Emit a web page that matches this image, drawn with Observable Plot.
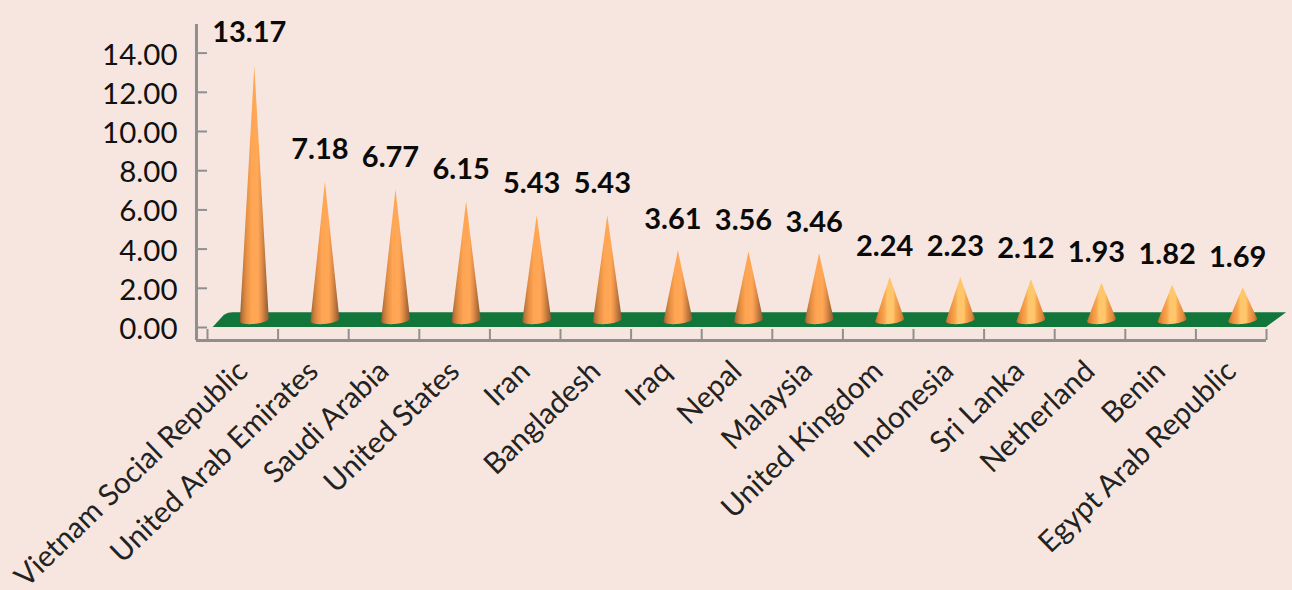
<!DOCTYPE html>
<html>
<head>
<meta charset="utf-8">
<script src="https://cdn.jsdelivr.net/npm/d3@7"></script>
<script src="https://cdn.jsdelivr.net/npm/@observablehq/plot@0.6"></script>
<style>
html,body{margin:0;padding:0;background:#f6e6df;overflow:hidden}
svg{display:block}
</style>
</head>
<body>
<div id="chart"></div>
<script>
const categories = ["Vietnam Social Republic","United Arab Emirates","Saudi Arabia","United States","Iran","Bangladesh","Iraq","Nepal","Malaysia","United Kingdom","Indonesia","Sri Lanka","Netherland","Benin","Egypt Arab Republic"];
const values = [13.17,7.18,6.77,6.15,5.43,5.43,3.61,3.56,3.46,2.24,2.23,2.12,1.93,1.82,1.69];
const yTicks = [0,2,4,6,8,10,12,14];
const bandEdges = d3.range(categories.length + 1);
const bandCentres = categories.map((_, i) => i + 0.5);

const axisColor = "#8f8f8f";
const font = "Lato, 'Open Sans', sans-serif";
const xLeft = -0.156, yBottom = -0.663, yTop = 15.46;
const coneHalf = 0.205;
const steps = d3.range(-1, 1.0001, 0.05);

const cones = categories.flatMap((name, i) => steps.map(t => ({
  name,
  value: values[i],
  x: i + 0.5 + t * coneHalf,
  y1: -0.2 * Math.sqrt(Math.max(0, 1 - t * t)) + 0.07 * t,
  y2: values[i] * 0.985 * (1 - Math.abs(t)) + 0.07 * t
})));

const floor = [
  {x: 0.08, y1: 0, y2: 0},
  {x: 0.24, y1: 0, y2: 0.62},
  {x: 0.30, y1: 0, y2: 0.73},
  {x: 0.36, y1: 0, y2: 0.75},
  {x: 15.0, y1: 0, y2: 0.75},
  {x: 15.285, y1: 0.75, y2: 0.75}
];

const gradient = (id, stops) => () => {
  const defs = d3.create("svg:defs");
  const g = defs.append("linearGradient").attr("id", id).attr("x1", 0).attr("x2", 1).attr("y1", 0).attr("y2", 0);
  stops.forEach(([o, c]) => g.append("stop").attr("offset", o).attr("stop-color", c));
  return defs.node();
};

const tall = d => d.value >= 3;
const chart = Plot.plot({
  width: 1292, height: 590,
  marginLeft: 196, marginRight: 26, marginTop: 24, marginBottom: 250,
  style: {background: "transparent", fontFamily: font, overflow: "visible"},
  x: {type: "linear", domain: [0, categories.length], range: [207, 1266]},
  y: {type: "linear", domain: [0, 14], range: [327, 52.6]},
  marks: [
    gradient("coneTall", [[0,"#8f5a2e"],[0.1,"#c07a3a"],[0.22,"#e58e44"],[0.4,"#ffa553"],[0.62,"#ffa857"],[0.74,"#e8904a"],[0.88,"#b5733a"],[1,"#8a5834"]]),
    gradient("coneShort", [[0,"#c0722f"],[0.18,"#f0923f"],[0.32,"#f8a64f"],[0.42,"#ffc66b"],[0.62,"#ffc66b"],[0.7,"#f9a650"],[0.88,"#e08a3e"],[1,"#b06c2e"]]),
    Plot.ruleX([xLeft], {y1: yBottom, y2: yTop, stroke: axisColor, strokeWidth: 3}),
    Plot.ruleY([yBottom], {x1: xLeft, x2: categories.length, stroke: axisColor, strokeWidth: 3}),
    Plot.axisY({ticks: yTicks, tickFormat: () => "", tickSize: -11, stroke: axisColor, strokeWidth: 2, label: null}),
    Plot.axisY({ticks: yTicks, tickFormat: d => d.toFixed(2), tickSize: 0, tickPadding: 19, fill: "#111", fontSize: 29.5, label: null, fontFamily: font, dy: 2}),
    Plot.axisX({ticks: bandEdges, tickFormat: () => "", tickSize: -11, stroke: axisColor, strokeWidth: 2, label: null}),
    Plot.axisX({ticks: bandCentres, tickFormat: d => categories[d - 0.5], tickSize: 0, tickPadding: 26, tickRotate: -44, fontSize: 29.5, fontFamily: font, fill: "#222", label: null, dx: 0}),
    Plot.area(floor, {x1: "x", y1: "y1", y2: "y2", fill: "#12753a"}),
    Plot.areaY(cones.filter(tall), {x: "x", y1: "y1", y2: "y2", z: "name", fill: "url(#coneTall)", dx: 12, dy: -7}),
    Plot.areaY(cones.filter(d => !tall(d)), {x: "x", y1: "y1", y2: "y2", z: "name", fill: "url(#coneShort)", dx: 12, dy: -7}),
    Plot.text(values, {x: (d, i) => i + 0.5, y: d => d, text: d => d.toFixed(2), dx: 6.5, dy: -37, fontSize: 29, fontWeight: 700, fill: "#0a0a0a", fontFamily: font})
  ]
});
document.getElementById("chart").appendChild(chart);
</script>
</body>
</html>
